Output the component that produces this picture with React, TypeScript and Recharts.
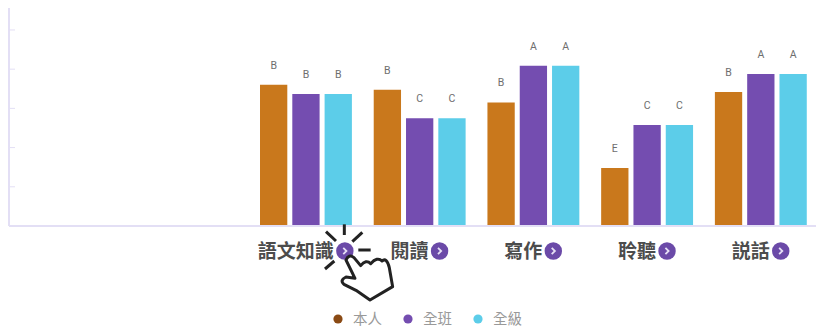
import React from 'react';
import { BarChart, Bar, XAxis, YAxis, LabelList, Legend } from 'recharts';

const categories = ['語文知識', '閱讀', '寫作', '聆聽', '説話'];
const selfValues = [72, 69.5, 63, 29.6, 68.4];
const classValues = [67.3, 55, 81.8, 51.5, 77.5];
const gradeValues = [67.3, 55, 81.8, 51.5, 77.5];
const selfGrades = ['B', 'B', 'B', 'E', 'B'];
const classGrades = ['B', 'C', 'A', 'C', 'A'];
const gradeGrades = ['B', 'C', 'A', 'C', 'A'];
const seriesNames = ['本人', '全班', '全級'];
const barColors = ['#c9781c', '#744db0', '#5ccde9'];
const legendColors = ['#8a4a14', '#744db0', '#5ccde9'];
const yTicks = [0, 20, 40, 60, 80, 100];

const data = categories.map((name, i) => ({
  name,
  self: selfValues[i],
  cls: classValues[i],
  grade: gradeValues[i],
  selfG: selfGrades[i],
  clsG: classGrades[i],
  gradeG: gradeGrades[i],
}));

const FONT = '"Noto Sans CJK TC", sans-serif';
const LATIN = 'Roboto, sans-serif';
const AXIS = '#e3dff5';
const PURPLE = '#6b4aa8';

function CategoryTick({ x, payload }: any) {
  const label = String(payload.value);
  const fs = 19;
  const w = label.length * fs;
  const total = w + 1 + 17;
  const left = x - total / 2 - 1;
  const cy = 251;
  const cx = left + w + 11;
  return (
    <g>
      <text x={left} y={cy + 6.5} fontFamily={FONT} fontWeight={700} fontSize={fs} fill="#4c4c4c">
        {label}
      </text>
      <circle cx={cx} cy={cy} r={8.7} fill={PURPLE} />
      <path d={`M${cx - 1.6} ${cy - 3.2} L${cx + 1.6} ${cy} L${cx - 1.6} ${cy + 3.2}`} fill="none" stroke="#e6e0f5" strokeWidth={1.8} />
    </g>
  );
}

function LegendRow() {
  const positions = [338, 408, 478];
  return (
    <svg width={816} height={24} style={{ display: 'block' }}>
      {seriesNames.map((n, i) => (
        <g key={n}>
          <circle cx={positions[i]} cy={12} r={4.6} fill={legendColors[i]} />
          <text x={positions[i] + 15} y={17} fontFamily={FONT} fontSize={14.5} fill="#999999">
            {n}
          </text>
        </g>
      ))}
    </svg>
  );
}

function Pointer() {
  const rays = [
    'M313 28V60',
    'M258 50L288 78',
    'M367 52L337 80',
    'M355 105H392',
    'M255 162L283 138',
  ];
  return (
    <svg width={816} height={328} style={{ position: 'absolute', left: 0, top: 0, pointerEvents: 'none' }}>
      <g transform="translate(240 215) scale(0.3333)">
        {rays.map((d) => (
          <path key={d} d={d} stroke="#222" strokeWidth={9} fill="none" />
        ))}
        <path
          d="M318 135 Q326 116 342 128 L362 152 Q378 132 392 146 Q412 124 426 138 Q440 126 448 158 L458 215 L390 255 L348 226 L312 208 Q298 196 318 186 L345 190 Z"
          fill="#fff"
          stroke="#222"
          strokeWidth={9}
          strokeLinejoin="round"
        />
      </g>
    </svg>
  );
}

export default function App() {
  const labelProps = { fontFamily: LATIN, fontSize: 10.5, fill: '#6e6e6e', stroke: 'none' };
  return (
    <div style={{ position: 'absolute', left: 0, top: 0, width: 816, height: 328, overflow: 'hidden', background: '#fff' }}>
      <BarChart
        width={820}
        height={328}
        data={data}
        barGap={5}
        barSize={27.3}
        margin={{ top: 8, right: 2.4, bottom: 28, left: 0 }}
      >
        <XAxis
          dataKey="name"
          height={50}
          interval={0}
          padding={{ left: 240, right: 0 }}
          axisLine={{ stroke: AXIS, strokeWidth: 2 }}
          tickLine={false}
          tick={<CategoryTick />}
        />
        <YAxis
          width={9}
          domain={[0, 111.2]}
          ticks={yTicks}
          allowDataOverflow
          axisLine={{ stroke: AXIS, strokeWidth: 2 }}
          tickLine={{ stroke: AXIS }}
          tickSize={-6}
          tick={<g />}
        />
        <Legend
          content={<LegendRow />}
          wrapperStyle={{ position: 'absolute', left: 0, top: 307, width: 816, height: 24 }}
        />
        <Bar dataKey="self" name={seriesNames[0]} fill={barColors[0]} isAnimationActive={false}>
          <LabelList dataKey="selfG" position="top" offset={16} {...labelProps} />
        </Bar>
        <Bar dataKey="cls" name={seriesNames[1]} fill={barColors[1]} isAnimationActive={false}>
          <LabelList dataKey="clsG" position="top" offset={16} {...labelProps} />
        </Bar>
        <Bar dataKey="grade" name={seriesNames[2]} fill={barColors[2]} isAnimationActive={false}>
          <LabelList dataKey="gradeG" position="top" offset={16} {...labelProps} />
        </Bar>
      </BarChart>
      <Pointer />
    </div>
  );
}
